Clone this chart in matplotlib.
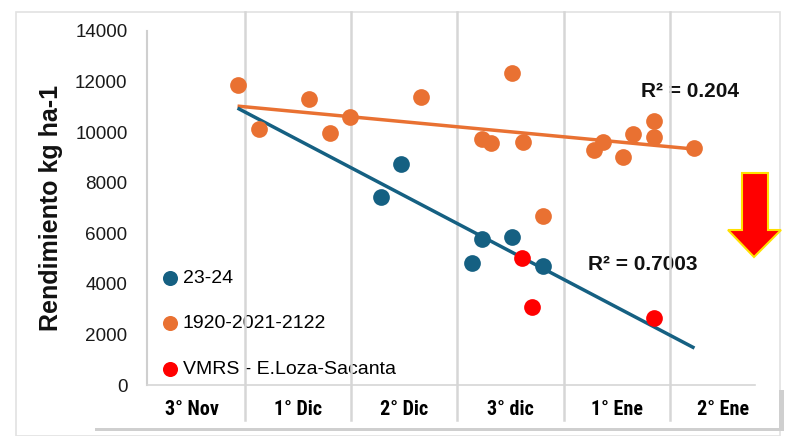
import matplotlib
matplotlib.use("Agg")
import matplotlib.pyplot as plt
from matplotlib.patches import Rectangle, Polygon
import numpy as np

W, H = 790, 436

# ---- data ----
categories = ["3° Nov", "1° Dic", "2° Dic", "3° dic", "1° Ene", "2° Ene"]
yticks = [0, 2000, 4000, 6000, 8000, 10000, 12000, 14000]

x_hist = [0.93, 1.13, 1.60, 1.80, 1.99, 2.66, 3.51, 3.23, 3.32, 3.62,
          4.28, 4.37, 4.56, 4.65, 4.85, 4.85, 5.23, 3.80]
y_hist = [11860, 10120, 11310, 9970, 10600, 11390, 12340, 9730, 9570, 9610,
          9290, 9610, 9020, 9930, 10440, 9810, 9370, 6680]

x_2324 = [2.28, 2.47, 3.14, 3.23, 3.51, 3.80]
y_2324 = [7430, 8740, 4830, 5770, 5850, 4710]

x_vmrs = [3.61, 3.70, 4.85]
y_vmrs = [5020, 3090, 2650]

trend_x = [0.93, 5.23]
trend_hist = [11030, 9330]
trend_2324 = [10950, 1460]

labels = ["23-24", "1920-2021-2122", "VMRS - E.Loza-Sacanta"]
r2_hist = "R² = 0.204"
r2_2324 = "R² = 0.7003"

c_blue = "#156082"
c_orange = "#E97132"
c_red = "#FF0000"


def fx(p):
    return p / W


def fy(p):
    return 1 - p / H


fig = plt.figure(figsize=(W / 100, H / 100), dpi=100)
fig.patch.set_facecolor("white")

# outer frame and category box (behind the axes)
fig.patches.append(Rectangle((fx(16), fy(436)), fx(780) - fx(16), fy(12) - fy(436),
                             transform=fig.transFigure, facecolor="white",
                             edgecolor="#e2e2e2", lw=1.2, zorder=-3))
fig.patches.append(Rectangle((fx(95), fy(431)), fx(784) - fx(95), fy(390) - fy(431),
                             transform=fig.transFigure, facecolor="#cfcfcf",
                             edgecolor="none", zorder=-2))
fig.patches.append(Rectangle((fx(93), fy(428)), fx(779) - fx(93), fy(388) - fy(428),
                             transform=fig.transFigure, facecolor="white",
                             edgecolor="none", zorder=-1))

ax = fig.add_axes([fx(147), fy(385), fx(780) - fx(147), fy(31) - fy(385)])
ax.set_facecolor("none")

ax.set_xlim(0.078, 6.035)
ax.set_ylim(0, 14000)

for k in range(1, 6):
    ax.axvline(k, ymin=-0.099, ymax=1.054, clip_on=False, color="#d6d6d6",
               lw=1.8, zorder=2)

ax.plot(trend_x, trend_hist, color=c_orange, lw=2.5, zorder=2.5, solid_capstyle="butt")
ax.plot(trend_x, trend_2324, color=c_blue, lw=2.5, zorder=2.5, solid_capstyle="butt")

s = 145
ax.scatter(x_2324, y_2324, s=s, color=c_blue, label=labels[0], zorder=3, linewidths=0)
ax.scatter(x_hist, y_hist, s=s, color=c_orange, label=labels[1], zorder=3, linewidths=0)
ax.scatter(x_vmrs, y_vmrs, s=s, color=c_red, label=labels[2], zorder=3, linewidths=0)

ax.set_yticks(yticks)
ax.set_yticklabels([str(v) for v in yticks], fontsize=13.6, family="Liberation Sans",
                   color="#1a1a1a")
ax.tick_params(axis="y", length=0, pad=14)

ax.set_xticks(np.arange(len(categories)) + 0.5)
ax.set_xticklabels(categories, fontsize=14.5, fontweight="bold",
                   family=["Roboto Condensed", "Liberation Sans Narrow", "Roboto"])
ax.tick_params(axis="x", length=0, pad=11)

for side in ["top", "right"]:
    ax.spines[side].set_visible(False)
ax.spines["left"].set_color("#cfcfcf")
ax.spines["left"].set_linewidth(1.5)
ax.spines["bottom"].set_color("#d6d6d6")
ax.spines["bottom"].set_linewidth(1.2)
ax.spines["bottom"].set_bounds(0.078, 5.80)

ax.text(-0.152, 0.5, "Rendimiento kg ha-1", transform=ax.transAxes, rotation=90,
        ha="center", va="center", fontsize=18, fontweight="bold",
        family="Liberation Sans", color="#111111")

ax.text(4.73, 11590, r2_hist, fontsize=15, fontweight="bold", family="Liberation Sans",
        va="center", ha="left", zorder=1, color="#111111")
ax.text(4.23, 4750, r2_2324, fontsize=15, fontweight="bold", family="Liberation Sans",
        va="center", ha="left", zorder=1, color="#111111")

leg = ax.legend(loc="upper left", bbox_to_anchor=(0.023, 0.326), frameon=False,
                prop={"family": "Liberation Sans", "size": 14},
                labelspacing=1.42, handletextpad=0.2, handlelength=0.9,
                borderpad=0, borderaxespad=0, markerscale=0.9)
leg.set_zorder(1)

# red down arrow on the right
arrow = [(742, 173), (768, 173), (768, 230), (781, 230), (754, 257), (728, 230), (742, 230)]
fig.patches.append(Polygon([(fx(a), fy(b)) for a, b in arrow], closed=True,
                           transform=fig.transFigure, facecolor="#FF0000",
                           edgecolor="#FFE000", lw=1.5, zorder=5))

fig.savefig("out.png", dpi=100)
